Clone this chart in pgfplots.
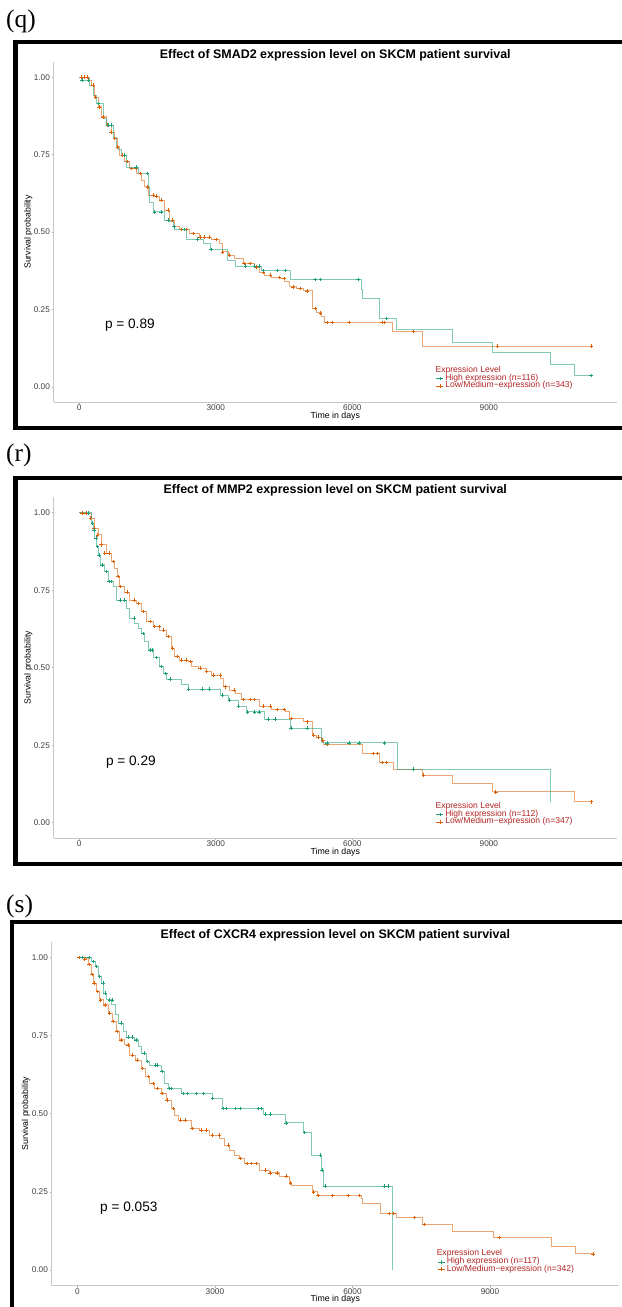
\documentclass[border=0pt]{standalone}
\usepackage{fontspec}
\setmainfont{Liberation Sans}
\newfontfamily\labelfont{Liberation Serif}
\usepackage{pgfplots}
\pgfplotsset{compat=1.18}
\definecolor{kmteal}{HTML}{1B9E77}
\definecolor{kmorange}{HTML}{D95F02}
\definecolor{legred}{HTML}{B22222}
\pgfplotsset{
  kmaxis/.style={
    scale only axis,
    xmin=-563, xmax=11815, ymin=-0.05, ymax=1.05,
    axis lines*=left,
    axis line style={black!22, line width=0.6bp, -},
    xtick={0,3000,6000,9000}, xticklabels={0,3000,6000,9000},
    scaled x ticks=false, scaled y ticks=false,
    ytick={0,0.25,0.5,0.75,1}, yticklabels={0.00,0.25,0.50,0.75,1.00},
    /pgf/number format/assume math mode=true,
    tick align=outside, major tick length=2bp,
    tick style={black!30, line width=0.6bp},
    ticklabel style={font=\fontsize{8.3}{9}\selectfont, text=black!75},
    xticklabel style={inner sep=0.6bp},
    yticklabel style={inner sep=1.5bp},
    xlabel={Time in days}, ylabel={Survival probability},
    label style={font=\fontsize{8.8}{10}\selectfont},
    x label style={at={(axis description cs:0.5,-0.0405)}, anchor=center},
    y label style={at={(axis description cs:-0.0448,0.5)}, anchor=center},
    every axis title shift=0pt,
    title style={font=\fontsize{12.5}{14}\selectfont\bfseries, at={(axis description cs:0.5,1.0197)}, anchor=center},
    legend style={draw=none, fill=none, inner sep=0pt, outer sep=0pt,
      font=\fontsize{8.6}{9}\selectfont, text=legred,
      row sep=0pt, column sep=1.5bp,
      nodes={inner sep=0pt, text height=5.6bp, text depth=1.7bp},
      at={(axis cs:7842,0.038)}, anchor=north west},
    legend cell align=left,
    legend image code/.code={\draw[##1, mark repeat=2, mark phase=2] plot coordinates {(0bp,0bp) (3.5bp,0bp) (7bp,0bp)};},
  },
  tealcurve/.style={const plot, color=kmteal, line width=0.8bp, draw opacity=0.55, forget plot},
  orangecurve/.style={const plot, color=kmorange, line width=0.8bp, draw opacity=0.55, forget plot},
  tealcens/.style={only marks, mark=+, mark size=1.8bp, color=kmteal, mark options={draw=kmteal, line width=0.5bp}, forget plot},
  orangecens/.style={only marks, mark=+, mark size=1.8bp, color=kmorange, mark options={draw=kmorange, line width=0.5bp}, forget plot},
}
\newcommand{\legtitle}[2]{\node[anchor=west, inner sep=0pt, font=\fontsize{8.6}{9}\selectfont, text=legred] at (axis cs:#1,#2) {Expression Level};}
\begin{document}
\begin{tikzpicture}
\useasboundingbox (0,0) rectangle (622bp,1307bp);
\clip (0,0) rectangle (622bp,1307bp);
% frames
\draw[line width=4.2bp] (15.4bp,878.7bp) rectangle (660bp,1264.6bp);
\draw[line width=4.2bp] (15.5bp,443.2bp) rectangle (660bp,829.3bp);
\draw[line width=4.2bp] (12.3bp,-60bp) rectangle (660bp,385bp);
% panel labels
\node[anchor=west, inner sep=0pt, font=\labelfont\fontsize{25.5}{28}\selectfont] at (6bp,1285.3bp) {(q)};
\node[anchor=west, inner sep=0pt, font=\labelfont\fontsize{25.5}{28}\selectfont] at (6bp,851.5bp) {(r)};
\node[anchor=west, inner sep=0pt, font=\labelfont\fontsize{25.5}{28}\selectfont] at (6bp,401bp) {(s)};

% ---------------- panel q ----------------
\begin{axis}[kmaxis, at={(53.6bp,904.7bp)}, anchor=south west, width=563.4bp, height=340.6bp,
  title={Effect of SMAD2 expression level on SKCM patient survival}]
\addplot[orangecurve] coordinates {(0,1.0)(160,1.0)(230,0.99)(270,0.974)(343,0.936)(415,0.904)(490,0.872)(600,0.845)(709,0.823)(782,0.802)(833,0.775)(892,0.748)(1001,0.727)(1111,0.705)(1258,0.689)(1368,0.667)(1441,0.646)(1513,0.619)(1660,0.616)(1770,0.603)(1880,0.571)(1990,0.538)(2100,0.517)(2209,0.508)(2429,0.495)(2648,0.484)(2905,0.476)(3088,0.463)(3147,0.436)(3271,0.425)(3417,0.415)(3600,0.398)(3856,0.387)(3966,0.371)(4076,0.361)(4222,0.353)(4405,0.350)(4515,0.342)(4610,0.323)(4771,0.318)(4917,0.310)(5123,0.253)(5211,0.239)(5321,0.226)(5394,0.208)(6880,0.178)(7539,0.132)(11252,0.132)};
\addplot[tealcurve] coordinates {(0,1.0)(50,0.99)(233,0.974)(306,0.942)(379,0.915)(525,0.867)(600,0.845)(745,0.807)(818,0.775)(855,0.766)(928,0.748)(1038,0.710)(1300,0.689)(1513,0.646)(1550,0.597)(1623,0.565)(1880,0.538)(1952,0.533)(2062,0.517)(2099,0.508)(2356,0.477)(2721,0.463)(2883,0.444)(3249,0.409)(3432,0.390)(4003,0.375)(4640,0.347)(6199,0.314)(6221,0.285)(6601,0.221)(6967,0.185)(8197,0.145)(9076,0.110)(10351,0.073)(10874,0.036)(11240,0.036)};
\addplot[orangecens] coordinates {(50,1.0)(120,1.0)(180,1.0)(300,0.974)(360,0.936)(430,0.904)(520,0.872)(620,0.845)(700,0.823)(780,0.802)(840,0.775)(950,0.748)(1050,0.727)(1150,0.705)(1250,0.705)(1350,0.689)(1500,0.646)(1620,0.619)(1700,0.616)(1800,0.603)(1950,0.571)(2050,0.538)(2250,0.508)(2350,0.508)(2500,0.495)(2650,0.484)(2750,0.484)(2850,0.484)(3000,0.476)(3150,0.436)(3300,0.425)(3620,0.398)(3750,0.398)(3880,0.387)(4050,0.371)(4200,0.361)(4400,0.353)(4500,0.350)(4700,0.323)(4850,0.318)(5000,0.310)(5180,0.253)(5300,0.239)(5450,0.208)(5550,0.208)(5925,0.208)(6650,0.208)(6710,0.208)(7345,0.178)(9192,0.132)(11252,0.132)};
\addplot[tealcens] coordinates {(60,0.99)(200,0.99)(420,0.915)(630,0.845)(700,0.845)(1000,0.748)(1250,0.710)(1500,0.689)(1650,0.565)(1800,0.565)(1950,0.538)(2080,0.517)(2300,0.508)(2600,0.477)(2900,0.444)(3650,0.390)(3850,0.390)(3950,0.390)(4050,0.375)(4355,0.375)(4530,0.375)(5184,0.347)(5298,0.347)(6125,0.347)(6752,0.221)(11240,0.036)};
\addlegendimage{kmteal, line width=0.6bp, mark=+, mark size=1.8bp}
\addlegendentry{High expression (n=116)}
\addlegendimage{kmorange, line width=0.6bp, mark=+, mark size=1.8bp}
\addlegendentry{Low/Medium−expression (n=343)}
\legtitle{7824}{0.054}
\node[anchor=west, inner sep=0pt, font=\fontsize{13.7}{15}\selectfont] at (axis cs:562,0.199) {p = 0.89};
\end{axis}

% ---------------- panel r ----------------
\begin{axis}[kmaxis, at={(53.6bp,468.7bp)}, anchor=south west, width=563.4bp, height=341bp,
  title={Effect of MMP2 expression level on SKCM patient survival}]
\addplot[orangecurve] coordinates {(0,1.0)(160,0.999)(270,0.983)(343,0.951)(415,0.929)(490,0.897)(600,0.870)(709,0.843)(782,0.821)(833,0.794)(892,0.762)(1001,0.744)(1111,0.719)(1258,0.708)(1368,0.681)(1478,0.649)(1623,0.633)(1770,0.622)(1917,0.601)(2027,0.563)(2099,0.536)(2209,0.525)(2392,0.520)(2466,0.506)(2612,0.499)(2795,0.488)(2905,0.477)(3103,0.466)(3161,0.439)(3307,0.428)(3439,0.418)(3564,0.398)(3966,0.377)(4222,0.366)(4537,0.358)(4625,0.337)(4932,0.326)(5115,0.283)(5211,0.276)(5321,0.267)(5372,0.254)(6221,0.224)(6601,0.194)(6894,0.173)(7539,0.154)(8197,0.127)(9076,0.100)(10874,0.068)(11257,0.068)};
\addplot[tealcurve] coordinates {(0,1.0)(250,1.0)(270,0.967)(306,0.945)(343,0.918)(379,0.891)(415,0.864)(467,0.832)(562,0.810)(635,0.778)(745,0.762)(818,0.719)(1038,0.692)(1111,0.660)(1221,0.644)(1294,0.628)(1368,0.611)(1441,0.584)(1513,0.558)(1623,0.533)(1770,0.504)(1843,0.482)(1917,0.464)(2246,0.445)(2392,0.431)(3103,0.412)(3271,0.396)(3490,0.377)(3674,0.358)(4076,0.334)(4640,0.305)(5321,0.258)(6982,0.173)(10351,0.068)};
\addplot[orangecens] coordinates {(60,1.0)(150,1.0)(250,0.983)(330,0.951)(400,0.929)(480,0.897)(560,0.870)(650,0.870)(750,0.843)(850,0.794)(900,0.762)(1050,0.744)(1200,0.719)(1300,0.708)(1400,0.681)(1550,0.649)(1650,0.633)(1750,0.633)(1850,0.622)(1950,0.601)(2050,0.563)(2150,0.536)(2250,0.525)(2350,0.525)(2450,0.520)(2650,0.499)(2800,0.488)(2950,0.477)(3100,0.477)(3200,0.439)(3400,0.428)(3600,0.398)(3750,0.398)(3850,0.398)(4050,0.377)(4200,0.377)(4350,0.366)(4500,0.366)(4650,0.337)(5000,0.326)(5150,0.283)(5250,0.276)(5350,0.267)(5450,0.254)(6450,0.224)(6550,0.224)(6650,0.194)(6750,0.194)(7560,0.154)(9150,0.100)(11257,0.068)};
\addplot[tealcens] coordinates {(200,1.0)(290,0.967)(330,0.945)(370,0.918)(400,0.891)(440,0.864)(500,0.832)(600,0.810)(650,0.778)(700,0.778)(900,0.719)(1000,0.719)(1200,0.660)(1400,0.611)(1550,0.558)(1600,0.558)(1700,0.533)(1800,0.504)(1900,0.482)(2000,0.464)(2400,0.431)(2700,0.431)(2850,0.431)(3150,0.412)(3300,0.396)(3500,0.377)(3700,0.358)(3850,0.358)(3950,0.358)(4150,0.334)(4300,0.334)(4650,0.305)(5000,0.305)(5450,0.258)(5925,0.258)(6143,0.258)(6709,0.258)(7345,0.173)};
\addlegendimage{kmteal, line width=0.6bp, mark=+, mark size=1.8bp}
\addlegendentry{High expression (n=112)}
\addlegendimage{kmorange, line width=0.6bp, mark=+, mark size=1.8bp}
\addlegendentry{Low/Medium−expression (n=347)}
\legtitle{7824}{0.052}
\node[anchor=west, inner sep=0pt, font=\fontsize{13.7}{15}\selectfont] at (axis cs:584,0.197) {p = 0.29};
\end{axis}

% ---------------- panel s ----------------
\begin{axis}[kmaxis, at={(51.6bp,21.3bp)}, anchor=south west, width=567.4bp, height=344bp,
  title={Effect of CXCR4 expression level on SKCM patient survival},
  legend style={at={(axis cs:7861,0.0375)}, anchor=north west},
  y label style={at={(axis description cs:-0.0455,0.5)}}]
\addplot[orangecurve] coordinates {(0,1.0)(165,0.995)(237,0.977)(311,0.945)(346,0.918)(420,0.891)(477,0.864)(564,0.848)(673,0.822)(768,0.795)(840,0.763)(912,0.736)(1036,0.720)(1145,0.688)(1276,0.672)(1400,0.645)(1493,0.619)(1580,0.597)(1689,0.581)(1835,0.565)(1944,0.544)(2053,0.517)(2125,0.496)(2197,0.480)(2488,0.453)(2669,0.448)(2887,0.432)(3104,0.421)(3213,0.400)(3322,0.384)(3431,0.368)(3540,0.357)(3649,0.341)(3976,0.320)(4193,0.311)(4411,0.300)(4628,0.279)(4665,0.271)(5136,0.250)(5245,0.239)(6189,0.229)(6224,0.213)(6603,0.181)(6951,0.168)(7530,0.146)(8183,0.125)(9069,0.104)(10339,0.077)(10866,0.052)(11246,0.052)};
\addplot[tealcurve] coordinates {(0,1.0)(290,1.0)(311,0.987)(383,0.971)(455,0.939)(529,0.918)(564,0.886)(638,0.864)(747,0.848)(819,0.816)(890,0.790)(999,0.763)(1073,0.745)(1254,0.736)(1326,0.715)(1400,0.694)(1509,0.667)(1580,0.656)(1835,0.635)(1907,0.597)(1979,0.581)(2270,0.565)(2946,0.549)(3163,0.517)(4062,0.499)(4535,0.471)(4933,0.440)(5107,0.368)(5318,0.320)(5368,0.268)(6866,0.0)};
\addplot[orangecens] coordinates {(40,1.0)(100,1.0)(160,0.995)(250,0.977)(320,0.945)(360,0.918)(440,0.891)(500,0.864)(600,0.848)(700,0.822)(780,0.795)(860,0.763)(950,0.736)(1100,0.720)(1200,0.688)(1300,0.672)(1420,0.645)(1550,0.619)(1650,0.597)(1750,0.581)(1850,0.565)(1950,0.544)(2100,0.517)(2250,0.480)(2350,0.480)(2500,0.453)(2700,0.448)(2800,0.448)(2950,0.432)(3100,0.432)(3300,0.400)(3550,0.357)(3700,0.341)(3800,0.341)(3900,0.341)(4100,0.320)(4200,0.311)(4350,0.311)(4550,0.300)(4650,0.279)(5150,0.250)(5245,0.239)(5570,0.239)(5900,0.239)(6150,0.239)(6800,0.181)(6900,0.181)(7350,0.168)(7560,0.146)(9200,0.104)(11246,0.052)};
\addplot[tealcens] coordinates {(100,1.0)(250,1.0)(350,0.987)(420,0.971)(480,0.939)(560,0.918)(600,0.886)(700,0.864)(750,0.864)(950,0.790)(1100,0.745)(1200,0.745)(1280,0.736)(1450,0.694)(1530,0.667)(1700,0.656)(1750,0.656)(1850,0.635)(2000,0.581)(2050,0.581)(2300,0.565)(2400,0.565)(2600,0.565)(2750,0.565)(2950,0.549)(3180,0.517)(3250,0.517)(3450,0.517)(3550,0.517)(3950,0.517)(4000,0.517)(4100,0.499)(4200,0.499)(4550,0.471)(4950,0.440)(5300,0.368)(5340,0.320)(5400,0.268)(6694,0.268)(6780,0.268)};
\addlegendimage{kmteal, line width=0.6bp, mark=+, mark size=1.8bp}
\addlegendentry{High expression (n=117)}
\addlegendimage{kmorange, line width=0.6bp, mark=+, mark size=1.8bp}
\addlegendentry{Low/Medium−expression (n=342)}
\legtitle{7835}{0.0526}
\node[anchor=west, inner sep=0pt, font=\fontsize{13.7}{15}\selectfont] at (axis cs:492,0.199) {p = 0.053};
\end{axis}
\end{tikzpicture}
\end{document}
